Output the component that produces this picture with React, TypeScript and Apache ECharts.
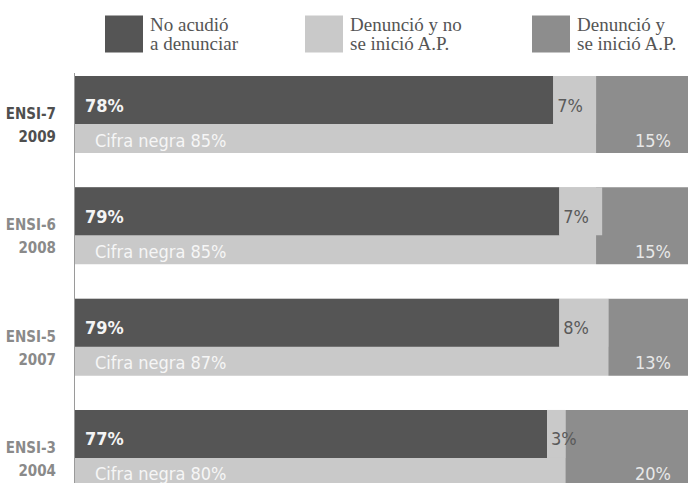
import React, { useEffect, useRef } from "react";
import * as echarts from "echarts";

const categories = ["ENSI-7\n2009", "ENSI-6\n2008", "ENSI-5\n2007", "ENSI-3\n2004"];
const noAcudio = [78, 79, 79, 77];
const denuncioNoAP = [7, 7, 8, 3];
const cifraNegra = [85, 85, 87, 80];
const denuncioAP = [15, 15, 13, 20];

const NAME_DARK = "No acudió\na denunciar";
const NAME_LIGHT = "Denunció y no\nse inició A.P.";
const NAME_MED = "Denunció y\nse inició A.P.";

const C_DARK = "#555555";
const C_LIGHT = "#c9c9c9";
const C_MED = "#8d8d8d";
const NARROW = '"DejaVu Sans Condensed", "Liberation Sans Narrow", "Roboto", sans-serif';
const SERIF = '"Liberation Serif", "DejaVu Serif", serif';

export default function App() {
  const ref = useRef<HTMLDivElement>(null);
  useEffect(() => {
    document.body.style.margin = "0";
    document.body.style.overflow = "hidden";
    const chart = echarts.init(ref.current!, null, { renderer: "svg" });
    const legendText = { fontFamily: SERIF, fontSize: 19, lineHeight: 19, color: "#555", padding: [0, 0, 0, 2] };
    const legendBase = {
      top: 15,
      padding: 0,
      itemWidth: 38,
      itemHeight: 37,
      icon: "rect",
      selectedMode: false,
      textStyle: legendText,
    };
    chart.setOption({
      animation: false,
      backgroundColor: "#ffffff",
      legend: [
        { ...legendBase, left: 105, data: [NAME_DARK] },
        { ...legendBase, left: 305, data: [NAME_LIGHT] },
        { ...legendBase, left: 532, data: [NAME_MED] },
      ],
      grid: [
        { left: 75, width: 618, top: 58.9, height: 445.2, containLabel: false },
        { left: 75, width: 618, top: 44.4, height: 445.2, containLabel: false },
      ],
      xAxis: [
        { type: "value", gridIndex: 0, min: 0, max: 100, show: false },
        { type: "value", gridIndex: 1, min: 0, max: 100, show: false },
      ],
      yAxis: [
        {
          type: "category",
          gridIndex: 0,
          inverse: true,
          data: categories,
          axisLine: { show: false },
          axisTick: { show: false },
          axisLabel: {
            margin: 19,
            padding: [22, 0, 0, 0],
            formatter: (v: string, i: number) =>
              v
                .split("\n")
                .map((s) => (i === 0 ? `{a|${s}}` : `{b|${s}}`))
                .join("\n"),
            rich: {
              a: { fontFamily: NARROW, fontSize: 15, fontWeight: "bold", color: "#4f4f4f", lineHeight: 23, align: "right" },
              b: { fontFamily: NARROW, fontSize: 15, fontWeight: "bold", color: "#8a8a8a", lineHeight: 23, align: "right" },
            },
          },
        },
        {
          type: "category",
          gridIndex: 1,
          inverse: true,
          data: categories,
          show: false,
        },
      ],
      series: [
        {
          name: "Cifra negra",
          type: "bar",
          xAxisIndex: 0,
          yAxisIndex: 0,
          stack: "full",
          barWidth: 77,
          z: 1,
          data: cifraNegra,
          itemStyle: { color: C_LIGHT },
          label: {
            show: true,
            position: "insideLeft",
            distance: 20,
            offset: [0, 25.5],
            formatter: "Cifra negra {c}%",
            color: "#f6f6f6",
            fontFamily: NARROW,
            fontSize: 18,
          },
        },
        {
          name: NAME_MED,
          type: "bar",
          xAxisIndex: 0,
          yAxisIndex: 0,
          stack: "full",
          barWidth: 77,
          z: 2,
          data: denuncioAP,
          itemStyle: { color: C_MED },
          label: {
            show: true,
            position: "insideRight",
            distance: 17,
            offset: [0, 25.5],
            formatter: "{c}%",
            color: "#e8e8e8",
            fontFamily: NARROW,
            fontSize: 18,
          },
        },
        {
          name: NAME_DARK,
          type: "bar",
          xAxisIndex: 1,
          yAxisIndex: 1,
          stack: "top",
          barWidth: 48,
          z: 4,
          data: noAcudio,
          itemStyle: { color: C_DARK },
          label: {
            show: true,
            position: "insideLeft",
            distance: 10,
            offset: [0, 5],
            formatter: "{c}%",
            color: "#f4f4f4",
            fontFamily: NARROW,
            fontWeight: "bold",
            fontSize: 18,
          },
        },
        {
          name: NAME_LIGHT,
          type: "bar",
          xAxisIndex: 1,
          yAxisIndex: 1,
          stack: "top",
          barWidth: 48,
          z: 5,
          data: denuncioNoAP,
          itemStyle: { color: C_LIGHT },
          label: {
            show: true,
            position: "insideLeft",
            distance: 4,
            offset: [0, 5],
            formatter: "{c}%",
            color: "#5a5a5a",
            fontFamily: NARROW,
            fontSize: 18,
          },
        },
      ],
      graphic: [
        {
          type: "line",
          shape: { x1: 74.5, y1: 73, x2: 74.5, y2: 530 },
          style: { stroke: "#9a9a9a", lineWidth: 1 },
          z: 10,
        },
      ],
    });
    return () => chart.dispose();
  }, []);
  return <div ref={ref} style={{ width: 688, height: 530 }} />;
}
